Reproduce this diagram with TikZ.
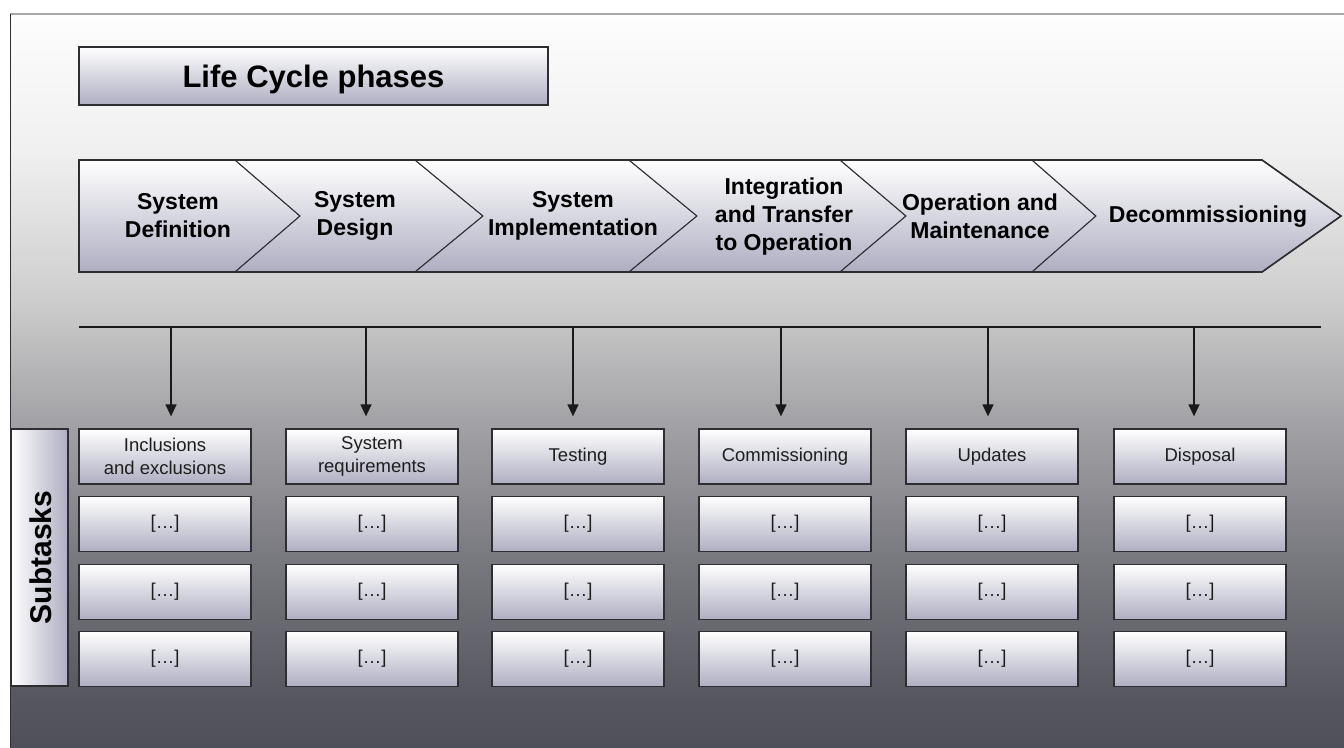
\documentclass[tikz,border=0pt]{standalone}
\usepackage{fontspec}
\setmainfont{Liberation Sans}
\usetikzlibrary{arrows.meta}
\definecolor{boxbot}{RGB}{174,174,194}
\definecolor{edge}{RGB}{45,45,50}
\definecolor{txt}{RGB}{30,30,30}
\definecolor{bgA}{RGB}{253,253,253}
\definecolor{bgB}{RGB}{240,240,240}
\definecolor{bgC}{RGB}{205,205,205}
\definecolor{bgD}{RGB}{163,163,167}
\definecolor{bgE}{RGB}{120,120,127}
\definecolor{bgF}{RGB}{86,86,95}
\definecolor{bgG}{RGB}{80,80,90}
\pgfdeclareverticalshading{bgshade}{100bp}{color(0bp)=(bgG); color(25bp)=(bgG); color(28.2bp)=(bgF); color(37.8bp)=(bgE); color(47.3bp)=(bgD); color(55.5bp)=(bgC); color(65.7bp)=(bgB); color(75bp)=(bgA); color(100bp)=(bgA)}
\begin{document}
\begin{tikzpicture}[x=1pt,y=-1pt,
  phase/.style={top color=white, bottom color=boxbot, draw=edge, line width=1pt, line join=miter},
  phasetext/.style={font=\fontsize{23}{28}\selectfont\bfseries, align=center, text=black, inner sep=0pt},
  titlebox/.style={draw=edge, line width=1.3pt, top color=white, bottom color=boxbot, minimum width=469pt, minimum height=58pt, inner sep=0pt, text depth=0pt, font=\fontsize{31}{36}\selectfont\bfseries},
  subtask/.style={draw=edge, line width=1.3pt, top color=white, bottom color=boxbot, minimum width=172pt, minimum height=55pt, inner sep=0pt, font=\fontsize{18.5}{23}\selectfont, text=txt, align=center},
  arr/.style={draw=black!90, line width=1.4pt, -{Triangle[width=11pt,length=12pt]}, shorten >=12pt}
]
\useasboundingbox (0,0) rectangle (1344,747);
% background frame
\fill[white] (0,0) rectangle (1344,747);
\shade[shading=bgshade] (10,14) rectangle (1344,747);
\draw[line width=1.5pt, draw={rgb,255:red,168;green,168;blue,168}] (10,14) -- (1344,14);
\draw[line width=1.5pt, draw={rgb,255:red,48;green,48;blue,52}] (10.5,14) -- (10.5,747);

% title
\node[titlebox] (title) at (313.5,76) {Life Cycle phases};

% chevrons
\path[phase] (79,160) -- (235,160) -- (300,216) -- (235,272) -- (79,272) -- cycle;
\path[phase] (235,160) -- (415,160) -- (483,216) -- (415,272) -- (235,272) -- (300,216) -- cycle;
\path[phase] (415,160) -- (629,160) -- (697,216) -- (629,272) -- (415,272) -- (483,216) -- cycle;
\path[phase] (629,160) -- (840,160) -- (906,216) -- (840,272) -- (629,272) -- (697,216) -- cycle;
\path[phase] (840,160) -- (1032,160) -- (1096,216) -- (1032,272) -- (840,272) -- (906,216) -- cycle;
\path[phase] (1032,160) -- (1262,160) -- (1341,216) -- (1262,272) -- (1032,272) -- (1096,216) -- cycle;
\draw[draw=edge, line width=1.6pt, line join=miter] (79,160) -- (1262,160) -- (1341,216) -- (1262,272) -- (79,272) -- cycle;

\node[phasetext] (p1) at (178,216) {System\\Definition};
\node[phasetext] (p2) at (355,216) {System\\Design};
\node[phasetext] (p3) at (573,216) {System\\Implementation};
\node[phasetext] (p4) at (784,217) {Integration\\and Transfer\\to Operation};
\node[phasetext] (p5) at (980,216) {Operation and\\Maintenance};
\node[phasetext] (p6) at (1208,217) {Decommissioning};

% bus line
\coordinate (busL) at (79,327);
\coordinate (busR) at (1321,327);
\draw[draw=black!90, line width=1.4pt] (busL) -- (busR);

% subtasks bar
\node[draw=edge, line width=1.3pt, left color=white, right color=boxbot, minimum width=57pt, minimum height=257pt, inner sep=0pt] (sbar) at (39.5,557.5) {};
\node[rotate=90, font=\fontsize{30}{34}\selectfont\bfseries, inner sep=0pt] (slabel) at (41,557.5) {Subtasks};

% subtask boxes
\node[subtask] (s1-1) at (165,456.5) {Inclusions\\and exclusions};
\node[subtask] (s2-1) at (372,456.5) {System\\requirements};
\node[subtask] (s3-1) at (578,456.5) {Testing};
\node[subtask] (s4-1) at (785,456.5) {Commissioning};
\node[subtask] (s5-1) at (992,456.5) {Updates};
\node[subtask] (s6-1) at (1200,456.5) {Disposal};
\foreach \c/\x in {1/165,2/372,3/578,4/785,5/992,6/1200}{
  \foreach \r/\y in {2/524,3/592,4/659}{
    \node[subtask] (s\c-\r) at (\x,\y) {[…]};
  }
}

% arrows
\foreach \c/\x in {1/171,2/366,3/573,4/781,5/988,6/1194}{
  \coordinate (b\c) at (\x,327);
  \draw[arr] (b\c) -- (b\c |- s\c-1.north);
}
\end{tikzpicture}
\end{document}
